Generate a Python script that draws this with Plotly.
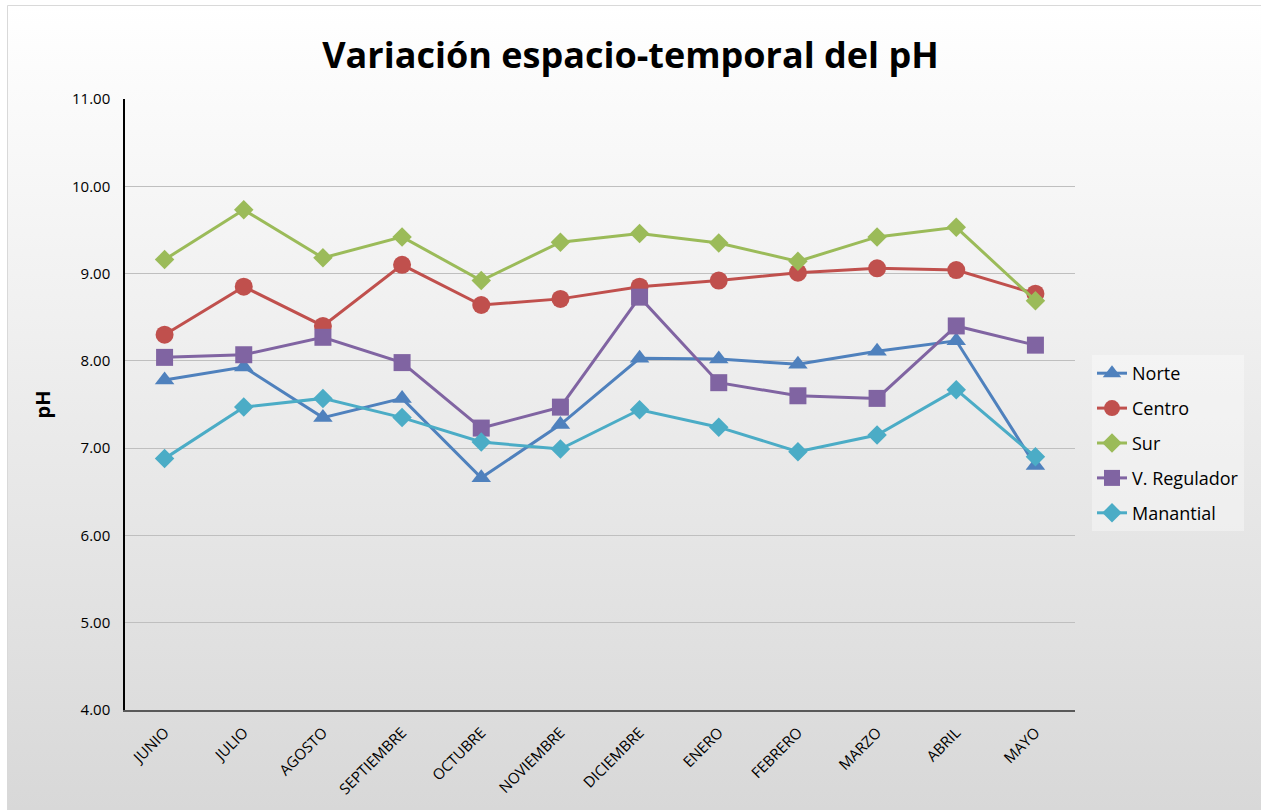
import plotly.graph_objects as go

months = ["JUNIO", "JULIO", "AGOSTO", "SEPTIEMBRE", "OCTUBRE", "NOVIEMBRE",
          "DICIEMBRE", "ENERO", "FEBRERO", "MARZO", "ABRIL", "MAYO"]
norte = [7.78, 7.93, 7.35, 7.57, 6.66, 7.27, 8.03, 8.02, 7.96, 8.11, 8.23, 6.80]
centro = [8.30, 8.85, 8.40, 9.10, 8.64, 8.71, 8.85, 8.92, 9.01, 9.06, 9.04, 8.77]
sur = [9.16, 9.73, 9.18, 9.42, 8.92, 9.36, 9.46, 9.35, 9.14, 9.42, 9.53, 8.69]
regulador = [8.04, 8.07, 8.27, 7.98, 7.23, 7.47, 8.73, 7.75, 7.60, 7.57, 8.40, 8.18]
manantial = [6.88, 7.47, 7.57, 7.35, 7.07, 6.99, 7.44, 7.24, 6.96, 7.15, 7.67, 6.90]
y_ticks = [4, 5, 6, 7, 8, 9, 10, 11]

series = [
    ("Norte", norte, "#4F81BD", "triangle-up", 17),
    ("Centro", centro, "#C0504D", "circle", 18),
    ("Sur", sur, "#9BBB59", "diamond", 15),
    ("V. Regulador", regulador, "#8064A2", "square", 17),
    ("Manantial", manantial, "#4BACC6", "diamond", 15),
]

fig = go.Figure()
for name, vals, color, sym, size in series:
    fig.add_trace(go.Scatter(
        x=months, y=vals, name=name, mode="lines+markers",
        legendgroup=name,
        line=dict(color=color, width=3),
        marker=dict(symbol=sym, size=size, color=color),
    ))

svg = ("data:image/svg+xml;utf8,"
       "<svg xmlns='http://www.w3.org/2000/svg' width='100' height='100' preserveAspectRatio='none'>"
       "<defs><linearGradient id='g' x1='0' y1='0' x2='0' y2='1'>"
       "<stop offset='0' stop-color='%23ffffff'/><stop offset='1' stop-color='%23d8d8d8'/>"
       "</linearGradient></defs><rect width='100' height='100' fill='url(%23g)'/></svg>")

W, H = 1261, 810
L, R, T, B = 125, 186, 99, 100
pw, ph = W - L - R, H - T - B
fx0, fy0 = 7, 5  # frame top-left in pixels


def px_x(p):
    return (p - L) / pw


def px_y(p):
    return 1 - (p - T) / ph


fig.update_layout(
    width=W, height=H,
    margin=dict(l=L, r=R, t=T, b=B),
    paper_bgcolor="#ffffff",
    plot_bgcolor="rgba(0,0,0,0)",
    font=dict(family="Open Sans, sans-serif", color="#000000"),
    title=dict(text="<b>Variación espacio-temporal del pH</b>",
               font=dict(size=36, family="Open Sans, sans-serif", color="#000000"),
               x=0.5, xanchor="center", y=1 - 55 / H, yanchor="middle"),
    images=[dict(source=svg, xref="paper", yref="paper",
                 x=px_x(fx0), y=px_y(fy0), sizex=(W - fx0) / pw, sizey=(H - fy0) / ph,
                 xanchor="left", yanchor="top", sizing="stretch", layer="below")],
    shapes=[dict(type="rect", xref="paper", yref="paper",
                 x0=px_x(fx0 + 0.5), x1=px_x(W + 5), y0=px_y(fy0 + 0.5), y1=px_y(H + 5),
                 line=dict(color="#D9D9D9", width=1), fillcolor="rgba(0,0,0,0)",
                 layer="below")],
    legend=dict(x=px_x(1092), xanchor="left", y=px_y(443), yanchor="middle",
                bgcolor="rgba(255,255,255,0.35)",
                font=dict(size=18, family="Open Sans, sans-serif"),
                tracegroupgap=8.5, itemwidth=30),
    showlegend=True,
)
fig.update_xaxes(
    type="category", range=[-0.5, 11.5],
    showline=True, linecolor="#595959", linewidth=2,
    showgrid=False, tickangle=-45, tickfont=dict(size=15),
    ticks="", ticklabelstandoff=6,
)
fig.update_yaxes(
    range=[4, 11], tickvals=y_ticks, tickformat=".2f",
    showline=True, linecolor="#000000", linewidth=1.5,
    showgrid=True, gridcolor="#BFBFBF", gridwidth=1,
    ticks="", ticklabelstandoff=10,
    tickfont=dict(size=15),
    title=dict(text="<b>pH</b>", font=dict(size=20), standoff=16),
    zeroline=False,
)
fig.write_html("out.html", config={"displayModeBar": False},
               post_script="document.body.style.margin='0';document.body.style.overflow='hidden';")
